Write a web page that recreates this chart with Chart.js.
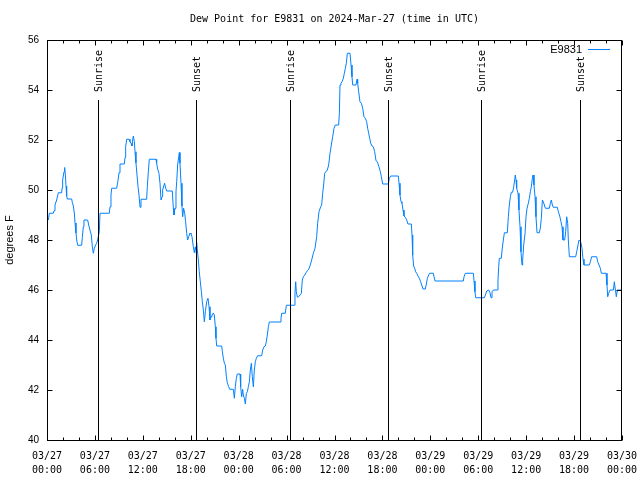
<!DOCTYPE html>
<html><head><meta charset="utf-8">
<script src="https://cdn.jsdelivr.net/npm/chart.js@4"></script>
<style>html,body{margin:0;padding:0;background:#fff}#wrap{width:640px;height:480px}</style>
</head><body><div id="wrap"><canvas id="c" width="640" height="480"></canvas></div>
<script>
// ---- data ----
const plotTitle = 'Dew Point for E9831 on 2024-Mar-27 (time in UTC)';
const seriesName = 'E9831';
const yAxisTitle = 'degrees F';
const xTickLabels = [['03/27','00:00'],['03/27','06:00'],['03/27','12:00'],['03/27','18:00'],
  ['03/28','00:00'],['03/28','06:00'],['03/28','12:00'],['03/28','18:00'],
  ['03/29','00:00'],['03/29','06:00'],['03/29','12:00'],['03/29','18:00'],['03/30','00:00']];
const sunEvents = ['Sunrise','Sunset','Sunrise','Sunset','Sunrise','Sunset'];
const sunHours = [6.39, 18.66, 30.37, 42.76, 54.38, 66.74]; // hours since 03/27 00:00 UTC

// hours since 03/27 00:00 UTC
const hours = [
0.17,0.29,0.79,0.88,1.00,1.21,1.42,1.84,1.88,1.96,
2.13,2.21,2.30,2.38,2.46,2.55,3.09,3.17,3.30,3.42,
3.51,3.63,3.72,3.84,4.34,4.42,4.55,4.63,5.09,5.22,
5.38,5.55,5.68,5.80,5.93,6.09,6.22,6.34,6.55,6.64,
7.80,7.89,8.01,8.10,8.72,8.85,9.02,9.14,9.68,9.77,
9.85,9.98,10.27,10.39,10.52,10.64,10.73,10.81,10.94,11.02,
11.14,11.27,11.40,11.52,11.65,11.77,12.48,12.56,12.69,12.81,
13.65,13.73,13.86,14.02,14.15,14.28,14.40,14.48,14.61,14.73,
14.86,14.99,15.69,15.82,15.90,16.03,16.15,16.24,16.36,16.49,
16.57,16.65,16.78,16.90,16.99,17.11,17.24,17.36,17.49,17.61,
17.74,17.91,18.03,18.16,18.32,18.45,18.57,18.70,18.74,18.82,
18.95,19.07,19.20,19.33,19.45,19.58,19.70,19.83,19.99,20.16,
20.29,20.41,20.54,20.66,20.83,20.95,21.08,21.16,21.25,21.87,
21.96,22.08,22.21,22.33,22.46,22.58,22.75,22.87,23.33,23.46,
23.58,23.71,23.83,24.17,24.25,24.38,24.50,24.58,24.71,24.84,
24.96,25.09,25.21,25.34,25.46,25.59,25.71,25.84,25.96,26.09,
26.21,26.38,26.88,27.01,27.17,27.34,27.46,27.59,27.72,27.84,
29.18,29.30,29.39,29.84,29.97,30.97,31.05,31.14,31.22,31.35,
31.51,31.68,31.85,31.97,32.10,32.27,32.43,32.60,32.77,32.93,
33.14,33.35,33.56,33.77,33.89,34.06,34.27,34.39,34.52,34.64,
34.77,35.10,35.27,35.44,35.60,35.77,35.94,36.10,36.52,36.61,
36.69,36.81,36.94,37.11,37.23,37.36,37.48,37.61,37.94,38.07,
38.19,38.28,38.69,38.82,38.90,39.03,39.19,39.36,39.53,39.69,
39.86,40.03,40.15,40.28,40.41,40.53,40.70,40.86,41.03,41.20,
41.36,41.57,41.74,41.87,42.03,42.74,42.87,43.03,43.99,44.08,
44.20,44.33,44.45,44.58,44.70,44.87,45.04,45.20,45.62,45.71,
45.79,45.91,46.04,46.16,46.29,46.46,46.62,46.79,46.92,47.08,
47.37,47.50,47.63,47.79,47.92,48.38,48.46,48.59,52.13,52.22,
52.38,53.39,53.47,53.59,53.68,54.76,54.89,55.06,55.31,55.47,
55.60,55.72,55.89,56.39,56.47,56.56,56.64,56.89,56.98,57.14,
57.27,57.64,57.77,57.89,58.02,58.14,58.31,58.44,58.56,58.64,
58.73,58.81,58.98,59.10,59.23,59.35,59.48,59.56,59.69,59.86,
59.98,60.11,60.27,60.40,60.52,60.65,60.77,60.86,60.98,61.11,
61.23,61.36,61.65,61.77,61.90,62.03,62.15,62.28,62.40,62.90,
63.03,63.15,63.28,63.40,63.90,64.03,64.20,64.36,64.49,64.61,
64.82,64.95,65.07,65.20,65.28,65.41,66.20,66.33,66.49,66.62,
66.83,66.99,67.12,67.24,67.91,68.04,68.20,68.83,68.96,69.12,
69.29,69.41,70.00,70.12,70.21,70.33,70.50,70.92,71.04,71.17,
71.29,71.42,71.96
];
// dew point, degrees F
const dewPoint = [
48.80,49.07,49.07,49.17,49.40,49.60,49.89,49.89,50.07,50.40,
50.73,50.90,50.60,50.16,49.76,49.64,49.64,49.50,49.36,49.08,
48.68,48.28,48.00,47.79,47.79,48.10,48.53,48.80,48.80,48.60,
48.40,48.20,47.73,47.47,47.67,47.80,47.87,48.00,48.33,49.07,
49.07,49.33,49.80,50.07,50.07,50.29,50.69,51.04,51.04,51.30,
51.73,52.03,52.03,51.93,51.87,51.76,52.00,52.16,51.93,51.53,
51.09,50.60,50.13,49.80,49.31,49.63,49.63,50.13,50.73,51.23,
51.23,51.07,50.83,50.67,50.27,49.60,49.73,50.00,50.16,50.27,
50.07,49.96,49.96,49.27,49.00,49.27,49.93,50.33,51.00,51.33,
51.50,51.07,50.27,49.36,48.93,49.27,49.07,48.73,48.27,48.00,
48.13,48.28,48.24,48.13,47.73,47.49,47.73,47.47,47.90,47.60,
47.20,46.73,46.33,45.93,45.53,45.20,44.73,45.13,45.53,45.67,
45.33,44.80,44.93,45.00,45.08,45.00,44.53,44.07,43.76,43.76,
43.53,43.27,43.07,43.00,42.53,42.29,42.13,42.03,42.03,41.67,
42.13,42.47,42.64,42.64,42.13,41.73,42.03,41.80,41.67,41.44,
41.87,41.93,42.13,42.33,42.80,43.07,42.53,42.13,42.80,43.13,
43.27,43.37,43.37,43.60,43.73,43.76,43.93,44.20,44.53,44.72,
44.72,44.87,45.07,45.07,45.39,45.39,45.87,46.33,45.93,45.71,
45.73,45.80,45.87,46.40,46.53,46.60,46.69,46.77,46.83,46.96,
47.20,47.47,47.67,48.13,48.67,49.13,49.33,49.40,49.87,50.20,
50.67,50.80,51.00,51.47,51.80,52.13,52.47,52.60,52.60,53.07,
54.20,54.27,54.33,54.47,54.67,54.87,55.07,55.47,55.47,55.00,
54.53,54.20,54.20,54.43,54.27,53.93,53.53,53.47,53.27,52.93,
52.87,52.73,52.47,52.27,52.07,51.87,51.76,51.73,51.53,51.17,
51.13,50.93,50.73,50.53,50.24,50.24,50.47,50.56,50.56,50.27,
49.80,49.53,49.47,49.20,48.96,48.91,48.80,48.64,48.64,48.20,
47.40,46.96,46.87,46.73,46.67,46.56,46.47,46.33,46.20,46.04,
46.04,46.24,46.47,46.60,46.67,46.67,46.53,46.36,46.36,46.53,
46.67,46.67,46.36,45.93,45.69,45.69,45.80,45.96,46.00,45.89,
45.69,45.93,46.00,46.00,46.40,46.93,47.27,47.27,47.60,48.00,
48.29,48.29,48.93,49.40,49.73,49.91,49.91,50.13,50.40,50.60,
50.40,50.07,49.87,49.20,48.53,47.53,47.00,47.20,47.80,48.27,
48.93,49.27,49.47,49.67,49.93,50.13,50.47,50.60,50.20,49.73,
48.93,48.29,48.29,48.47,48.87,49.60,49.53,49.40,49.27,49.27,
49.47,49.60,49.40,49.31,49.31,49.13,48.96,48.73,48.53,48.00,
48.00,48.33,48.93,48.67,48.00,47.33,47.33,47.53,47.80,48.00,
47.93,47.67,47.23,47.00,47.00,47.13,47.33,47.33,47.13,47.00,
46.87,46.67,46.67,46.20,45.73,45.87,46.00,46.00,46.33,46.00,
45.73,46.00,46.00
];

// ---- styling constants ----
const MONO = '"DejaVu Sans Mono", "Liberation Mono", monospace';
const SANS = '"Liberation Sans", Arial, sans-serif';
const LINE_COLOR = 'rgb(0,128,255)';
const sunLineTop = 53.6;     // y-value where the sun marker lines stop
const sunLabelBase = 53.92;  // y-value where the rotated sun labels start
const titleY = 19;

const framePlugin = {
  id: 'frame',
  afterDraw(chart) {
    const {ctx, chartArea: a, scales: {x, y}} = chart;
    const L = Math.round(a.left) + 0.5, R = Math.round(a.right) - 0.5;
    const T = Math.round(a.top) + 0.5, B = Math.round(a.bottom) + 0.5;
    ctx.save();
    ctx.strokeStyle = '#000'; ctx.lineWidth = 1;
    const seg = (x1, y1, x2, y2) => { ctx.beginPath(); ctx.moveTo(x1, y1); ctx.lineTo(x2, y2); ctx.stroke(); };
    // border box
    ctx.strokeRect(L, T, R - L, B - T);
    // x ticks (inward, mirrored on top)
    x.ticks.forEach(t => {
      const px = Math.round(x.getPixelForValue(t.value)) + 0.5;
      const len = (t.value % 6 === 0) ? 5 : 3;
      seg(px, B, px, B - len);
      seg(px, T, px, T + len);
    });
    // y ticks (inward, mirrored on right)
    y.ticks.forEach(t => {
      const py = Math.round(y.getPixelForValue(t.value)) + 0.5;
      seg(L, py, L + 5, py);
      seg(R, py, R - 5, py);
    });
    // sunrise / sunset markers
    ctx.fillStyle = '#000';
    ctx.font = '10px ' + MONO;
    sunHours.forEach((h, i) => {
      const px = Math.round(x.getPixelForValue(h)) + 0.5;
      seg(px, B, px, y.getPixelForValue(sunLineTop));
      ctx.save();
      ctx.translate(px + 1, y.getPixelForValue(sunLabelBase));
      ctx.rotate(-Math.PI / 2);
      ctx.textAlign = 'left'; ctx.textBaseline = 'middle';
      ctx.fillText(sunEvents[i], 0, 0);
      ctx.restore();
    });
    // title
    ctx.font = '10px ' + MONO;
    ctx.textAlign = 'center'; ctx.textBaseline = 'middle';
    ctx.fillText(plotTitle, (a.left + a.right) / 2, titleY);
    // legend (inside top-right)
    const ly = Math.round(a.top) + 9.5;
    ctx.font = '11px ' + SANS;
    ctx.textAlign = 'right';
    ctx.fillText(chart.data.datasets[0].label, a.right - 40, ly);
    ctx.strokeStyle = chart.data.datasets[0].borderColor;
    seg(a.right - 34, ly, a.right - 12, ly);
    ctx.restore();
  }
};

new Chart(document.getElementById('c'), {
  type: 'line',
  data: {
    datasets: [{
      label: seriesName,
      data: hours.map((h, i) => ({x: h, y: dewPoint[i]})),
      borderColor: LINE_COLOR,
      borderWidth: 1,
      pointRadius: 0,
      tension: 0,
      fill: false
    }]
  },
  options: {
    responsive: false,
    animation: false,
    devicePixelRatio: 1,
    layout: {padding: {left: 0, right: 18, top: 40, bottom: 0}},
    plugins: {legend: {display: false}, title: {display: false}, tooltip: {enabled: false}},
    scales: {
      x: {
        type: 'linear', min: 0, max: 72,
        grid: {display: false, drawTicks: false},
        border: {display: false},
        ticks: {
          stepSize: 2, autoSkip: false, maxRotation: 0, minRotation: 0,
          padding: 9, color: '#000', font: {family: MONO, size: 10, lineHeight: 1.4},
          callback: (v) => (v % 6 === 0 ? xTickLabels[v / 6] : '')
        },
        afterFit: s => { s.height = 40; s.paddingLeft = 0; s.paddingRight = 0; }
      },
      y: {
        min: 40, max: 56,
        grid: {display: false, drawTicks: false},
        border: {display: false},
        ticks: {stepSize: 2, padding: 8, color: '#000', font: {family: SANS, size: 10}},
        title: {display: true, text: yAxisTitle, color: '#000', font: {family: SANS, size: 11}, padding: {top: 3, bottom: 0}},
        afterFit: s => { s.width = 47; s.paddingTop = 0; s.paddingBottom = 0; }
      }
    }
  },
  plugins: [framePlugin]
});
</script>
</body></html>
